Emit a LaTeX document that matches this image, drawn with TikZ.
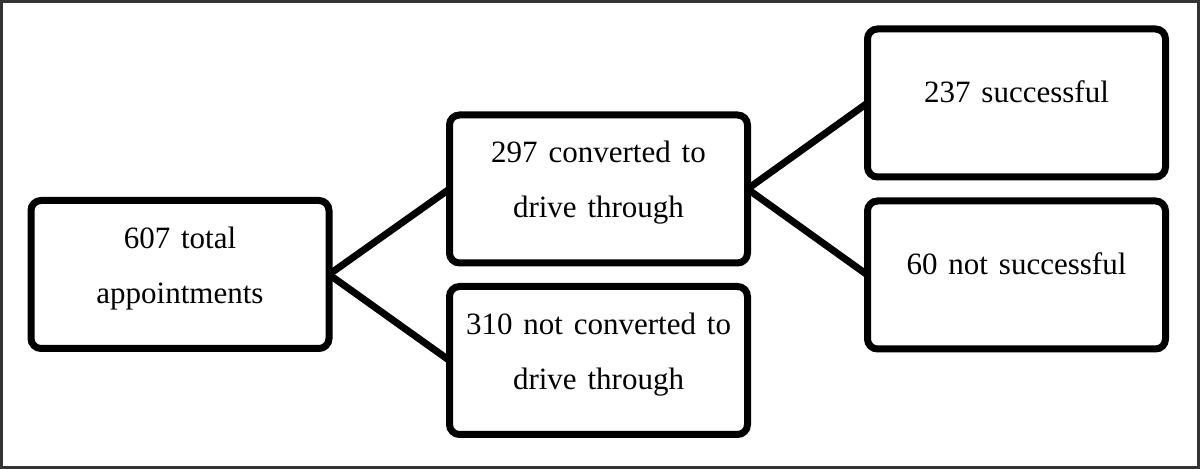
\documentclass[tikz,border=0pt]{standalone}
\usepackage{fontspec}
\setmainfont{Liberation Serif}
\newcommand\boxfont{\fontsize{15.5}{27.5}\selectfont\spaceskip=0.35em\relax}
\begin{document}
\begin{tikzpicture}[x=0.5pt,y=-0.5pt,
  box/.style={draw=black, line width=3.5pt, rounded corners=5pt, fill=white,
    minimum width=149pt, minimum height=74pt, inner sep=0pt, outer sep=0pt,
    align=center, font=\boxfont},
  txt/.style={inner sep=0pt, align=center, font=\boxfont, yshift=3pt},
  oneline/.style={text height=1.1em, text depth=1.1em},
  link/.style={draw=black, line width=3.5pt}]
\useasboundingbox (0,0) rectangle (1200,469);
\fill[white] (0,0) rectangle (1200,469);
\draw[line width=1.5pt, draw=black!80] (1.5,1.5) rectangle (1198.5,467.5);
\node[box] (total) at (180,274.5) {};
\node[txt] (totaltxt) at (total.center) {607 total\\appointments};
\node[box] (conv) at (598.5,189) {};
\node[txt] (convtxt) at (conv.center) {297 converted to\\drive through};
\node[box] (notconv) at (598.5,360.5) {};
\node[txt] (notconvtxt) at (notconv.center) {310 not converted to\\drive through};
\node[box,oneline] (succ) at (1016.5,103) {237 successful};
\node[box,oneline] (notsucc) at (1016.5,275) {60 not successful};
\draw[link] (total.east) -- (conv.west);
\draw[link] (total.east) -- (notconv.west);
\draw[link] (conv.east) -- (succ.west);
\draw[link] (conv.east) -- (notsucc.west);
\end{tikzpicture}
\end{document}
